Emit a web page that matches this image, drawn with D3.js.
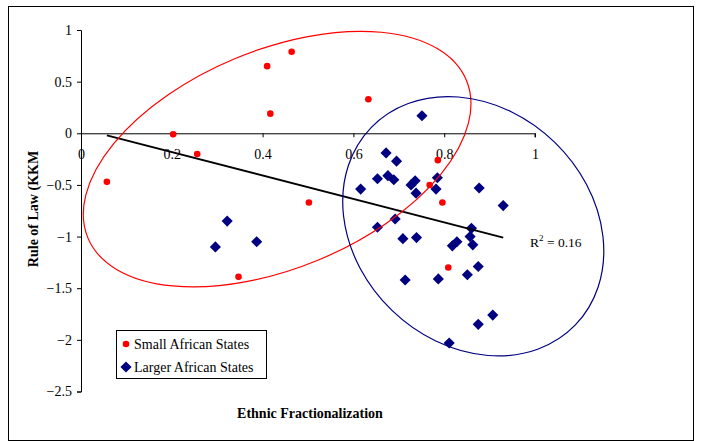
<!DOCTYPE html>
<html lang="en">
<head>
<meta charset="UTF-8">
<title>Rule of Law vs Ethnic Fractionalization</title>
<script src="https://d3js.org/d3.v7.min.js"></script>
<style>
  body { margin: 0; background: #fff; }
  svg text { font-family: "Liberation Serif", "Times New Roman", serif; fill: #000; }
  .tick text { font-size: 14px; }
  .axis-title { font-size: 14px; font-weight: bold; }
  .legend text { font-size: 14px; }
</style>
</head>
<body>
<div id="chart"></div>
<script>
// Small African States (ethnic fractionalization, rule of law)
const smallX = [0.057, 0.203, 0.256, 0.410, 0.464, 0.417, 0.633, 0.786, 0.768, 0.502, 0.347, 0.796, 0.809];
const smallY = [-0.47, -0.01, -0.20, 0.65, 0.79, 0.19, 0.33, -0.26, -0.50, -0.67, -1.39, -0.67, -1.30];

// Larger African States
const largeX = [0.751, 0.672, 0.695, 0.653, 0.676, 0.689, 0.616, 0.727, 0.736, 0.738, 0.785, 0.782,
                0.877, 0.930, 0.860, 0.857, 0.863, 0.828, 0.818, 0.739, 0.709, 0.692, 0.653, 0.875,
                0.851, 0.787, 0.714, 0.811, 0.907, 0.875, 0.322, 0.296, 0.387];
const largeY = [0.17, -0.19, -0.27, -0.44, -0.41, -0.45, -0.54, -0.50, -0.46, -0.58, -0.43, -0.54,
                -0.53, -0.70, -0.92, -1.00, -1.08, -1.05, -1.09, -1.01, -1.02, -0.83, -0.91, -1.29,
                -1.37, -1.41, -1.42, -2.03, -1.76, -1.85, -0.85, -1.10, -1.05];

// linear trendline (all states), end points
const trendX = [0.057, 0.930];
const trendY = [-0.02, -1.01];
const rSquared = "0.16";

const xTicks = [0, 0.2, 0.4, 0.6, 0.8, 1];
const yTicks = [1, 0.5, 0, -0.5, -1, -1.5, -2, -2.5];
const seriesNames = ["Small African States", "Larger African States"];

const W = 701, H = 441;
const svg = d3.select("#chart").append("svg")
    .attr("width", W)
    .attr("height", H);

// chart border
svg.append("rect")
    .attr("x", 8.5).attr("y", 6.5)
    .attr("width", 685).attr("height", 434)
    .attr("fill", "#fff")
    .attr("stroke", "#000")
    .attr("stroke-width", 1);

const x = d3.scaleLinear().domain([0, 1]).range([81, 535]);
const y = d3.scaleLinear().domain([-2.5, 1]).range([391.5, 30]);

// y axis
svg.append("g")
    .attr("transform", `translate(${x(0)},0)`)
    .call(d3.axisLeft(y).tickValues(yTicks).tickSize(4).tickPadding(5).tickFormat(d3.format("")))
    .call(g => g.selectAll("line, path").attr("stroke", "#000"));

// x axis crosses at y = 0
svg.append("g")
    .attr("transform", `translate(0,${y(0)})`)
    .call(d3.axisBottom(x).tickValues(xTicks).tickSize(4).tickPadding(12).tickFormat(d3.format("")))
    .call(g => g.selectAll("line, path").attr("stroke", "#000"))
    .call(g => g.select(".domain").attr("d", `M${x(0)},0.5H${x(1)}V4`));

// axis titles
svg.append("text")
    .attr("class", "axis-title")
    .attr("x", 310).attr("y", 418)
    .attr("text-anchor", "middle")
    .text("Ethnic Fractionalization");

svg.append("text")
    .attr("class", "axis-title")
    .attr("transform", "translate(38,209) rotate(-90)")
    .attr("text-anchor", "middle")
    .text("Rule of Law (KKM");

// points
const small = smallX.map((d, i) => ({x: d, y: smallY[i]}));
const large = largeX.map((d, i) => ({x: d, y: largeY[i]}));
const diamondType = {
  draw(ctx, size) {
    const r = Math.sqrt(size / 2);
    ctx.moveTo(0, -r);
    ctx.lineTo(r, 0);
    ctx.lineTo(0, r);
    ctx.lineTo(-r, 0);
    ctx.closePath();
  }
};
const diamond = d3.symbol().type(diamondType).size(62);

svg.append("g").selectAll("path")
    .data(large)
    .enter().append("path")
    .attr("d", diamond)
    .attr("transform", d => `translate(${x(d.x)},${y(d.y)})`)
    .attr("fill", "#000080");

svg.append("g").selectAll("circle")
    .data(small)
    .enter().append("circle")
    .attr("cx", d => x(d.x))
    .attr("cy", d => y(d.y))
    .attr("r", 3.3)
    .attr("fill", "#ff0000");

// trendline
svg.append("line")
    .attr("x1", x(trendX[0])).attr("y1", y(trendY[0]))
    .attr("x2", x(trendX[1])).attr("y2", y(trendY[1]))
    .attr("stroke", "#000")
    .attr("stroke-width", 2);

const r2 = svg.append("text")
    .attr("x", 530).attr("y", 247)
    .attr("font-size", 13.5);
r2.append("tspan").text("R");
r2.append("tspan").attr("dy", -6).attr("font-size", 9).text("2");
r2.append("tspan").attr("dy", 6).text(" = " + rSquared);

// hand-drawn group ellipses
const ellipses = [
  {cx: 0.432, cy: -0.25, rx: 205, ry: 109, angle: -22.6, color: "#ff0000"},
  {cx: 0.864, cy: -0.90, rx: 142, ry: 117, angle: 44, color: "#000080"}
];
svg.append("g").selectAll("ellipse")
    .data(ellipses)
    .enter().append("ellipse")
    .attr("transform", d => `translate(${x(d.cx)},${y(d.cy)}) rotate(${d.angle})`)
    .attr("rx", d => d.rx)
    .attr("ry", d => d.ry)
    .attr("fill", "none")
    .attr("stroke", d => d.color)
    .attr("stroke-width", 1.2);

// legend
const legend = svg.append("g")
    .attr("class", "legend")
    .attr("transform", "translate(116,330)");

legend.append("rect")
    .attr("x", 0.5).attr("y", 0.5)
    .attr("width", 150).attr("height", 48)
    .attr("fill", "#fff")
    .attr("stroke", "#000");

const items = legend.selectAll("g.item")
    .data(seriesNames)
    .enter().append("g")
    .attr("class", "item")
    .attr("transform", (d, i) => `translate(0,${14 + i * 23})`);

items.each(function(d, i) {
  const g = d3.select(this);
  if (i === 0) {
    g.append("circle").attr("cx", 10).attr("cy", 0).attr("r", 3.3).attr("fill", "#ff0000");
  } else {
    g.append("path").attr("d", diamond).attr("transform", "translate(10,0)").attr("fill", "#000080");
  }
});

items.append("text")
    .attr("x", 18)
    .attr("y", 5)
    .text(d => d);
</script>
</body>
</html>
